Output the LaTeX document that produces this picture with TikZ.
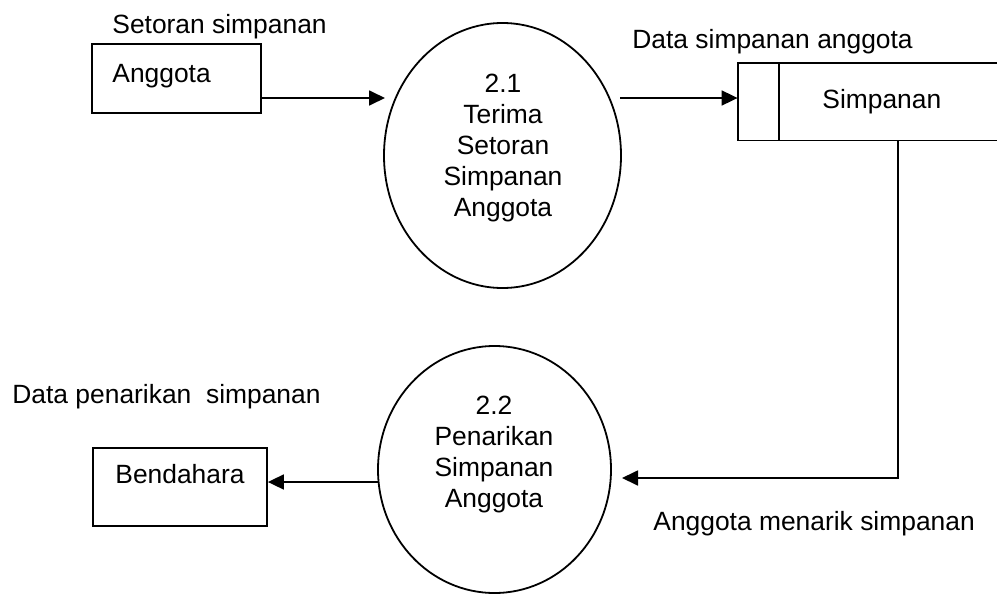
\documentclass[tikz,border=0pt]{standalone}
\usepackage{fontspec}
\setmainfont{Liberation Sans}
\usetikzlibrary{arrows.meta,shapes.geometric}
\begin{document}
\begin{tikzpicture}[x=0.5pt,y=-0.5pt,
  line/.style={line width=0.9pt},
  flow/.style={line, -{Triangle[length=8pt,width=7.5pt]}},
  entity/.style={draw, line, rectangle, inner sep=0pt},
  process/.style={draw, line, ellipse, inner sep=0pt},
  lbl/.style={inner sep=0pt, anchor=base west},
  ptext/.style={inner sep=0pt, align=center},
  every node/.style={font=\fontsize{13.2}{15.5}\selectfont}
]
\useasboundingbox (0,0) rectangle (997,595);

% external entities
\node[entity, minimum width=84.5pt, minimum height=34.5pt] (anggota) at (176.5,78.5) {};
\node[lbl] (anggotatxt) at (112,82) {Anggota};
\node[entity, minimum width=87pt, minimum height=39pt] (bendahara) at (180,487) {};
\node[lbl] (bendtxt) at (115,483) {Bendahara};

% processes
\node[process, minimum width=118.5pt, minimum height=132.5pt] (p21) at (502.5,155.5) {};
\node[ptext] (p21txt) at (503,148.4) {2.1\\Terima\\Setoran\\Simpanan\\Anggota};
\node[process, minimum width=116.5pt, minimum height=123.5pt] (p22) at (494.5,469.5) {};
\node[ptext] (p22txt) at (494,454.9) {2.2\\Penarikan\\Simpanan\\Anggota};

% data store (open on the right)
\node[inner sep=0pt, minimum width=129.5pt, minimum height=38.5pt] (store) at (867.5,101.5) {};
\draw[line] (store.north east) -- (store.north west) -- (store.south west) -- (store.south east);
\draw[line] ([xshift=20.5pt]store.north west) -- ([xshift=20.5pt]store.south west);
\node[lbl] (storetxt) at (822,108) {Simpanan};

% data flows
\coordinate (in1) at (385,98);
\draw[flow] (anggota.east |- in1) -- (in1);
\coordinate (out1) at (620,98);
\draw[flow] (out1) -- (store.west |- out1);
\coordinate (bend) at (898,478);
\coordinate (in2) at (622,478);
\draw[flow] (store.south -| bend) -- (bend) -- (in2);
\coordinate (out2) at (378,482);
\draw[flow] (out2) -- (bendahara.east |- out2);

% flow labels
\node[lbl] (l1) at (112,33) {Setoran simpanan};
\node[lbl] (l2) at (632,48) {Data simpanan anggota};
\node[lbl] (l3) at (12,403) {Data penarikan\ \ simpanan};
\node[lbl] (l4) at (653,530) {Anggota menarik simpanan};
\end{tikzpicture}
\end{document}
